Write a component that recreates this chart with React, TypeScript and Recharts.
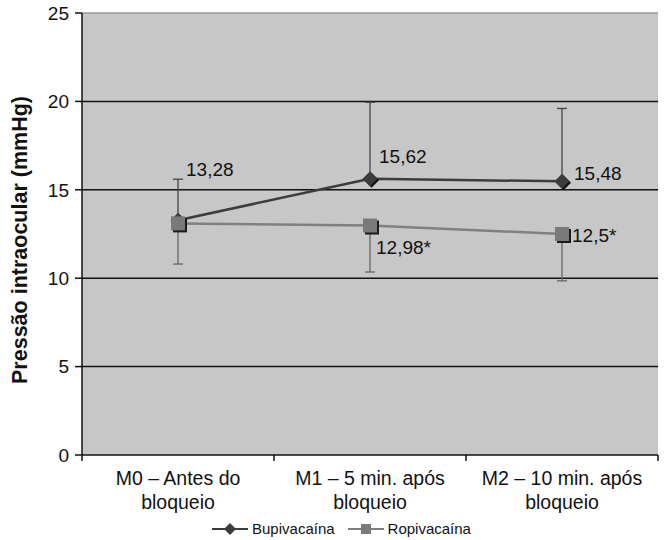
import { LineChart, Line, XAxis, YAxis, ErrorBar, ReferenceLine, CartesianGrid, Legend } from 'recharts';

const categories = [
  ['M0 – Antes do', 'bloqueio'],
  ['M1 – 5 min. após', 'bloqueio'],
  ['M2 – 10 min. após', 'bloqueio'],
];
const bupivacaina = [13.28, 15.62, 15.48];
const bupivacainaUpper = [15.6, 19.95, 19.6];
const ropivacaina = [13.1, 12.98, 12.5];
const ropivacainaLower = [10.8, 10.35, 9.85];
const bupivacainaLabels = ['13,28', '15,62', '15,48'];
const ropivacainaLabels = ['', '12,98*', '12,5*'];
const yTicks = [0, 5, 10, 15, 20, 25];
const gridLines = [5, 10, 15, 20];

const FONT = '"Liberation Sans", Arial, sans-serif';
const BUPI = '#3c3c3c';
const ROPI = '#808080';

const data = categories.map((c, i) => ({
  name: c.join(' '),
  bupi: bupivacaina[i],
  bupiErr: [0, +(bupivacainaUpper[i] - bupivacaina[i]).toFixed(2)],
  ropi: ropivacaina[i],
  ropiErr: [+(ropivacaina[i] - ropivacainaLower[i]).toFixed(2), 0],
}));

const BAND = 192;

function XTick(props: any) {
  const { x, y, index } = props;
  const lines = categories[index] || [];
  return (
    <g>
      <line x1={x - BAND / 2} x2={x - BAND / 2} y1={y} y2={y + 6} stroke="#111" strokeWidth={1.5} />
      {index === categories.length - 1 && (
        <line x1={x + BAND / 2} x2={x + BAND / 2} y1={y} y2={y + 6} stroke="#111" strokeWidth={1.5} />
      )}
      <text x={x} y={y + 30} textAnchor="middle" fontSize={19.5} fill="#111" fontFamily={FONT}>
        {lines[0]}
      </text>
      <text x={x} y={y + 54} textAnchor="middle" fontSize={19.5} fill="#111" fontFamily={FONT}>
        {lines[1]}
      </text>
    </g>
  );
}

function Diamond({ cx, cy }: any) {
  if (cx == null || cy == null) return null;
  const r = 7.5;
  return (
    <g>
      <polygon points={`${cx + 1.5},${cy - r + 1.5} ${cx + r + 1.5},${cy + 1.5} ${cx + 1.5},${cy + r + 1.5} ${cx - r + 1.5},${cy + 1.5}`} fill="#111" />
      <polygon points={`${cx},${cy - r} ${cx + r},${cy} ${cx},${cy + r} ${cx - r},${cy}`} fill={BUPI} />
    </g>
  );
}

function Square({ cx, cy }: any) {
  if (cx == null || cy == null) return null;
  const h = 7;
  return (
    <g>
      <rect x={cx - h + 2} y={cy - h + 2} width={h * 2} height={h * 2} fill="#1a1a1a" />
      <rect x={cx - h} y={cy - h} width={h * 2} height={h * 2} fill="#7a7a7a" />
    </g>
  );
}

const bupiOffsets = [[8, -44], [9, -16], [12, -1]];
const ropiOffsets = [[0, 0], [6, 28], [10, 8]];

const makeLabel = (labels: string[], offsets: number[][]) => (props: any) => {
  const { x, y, index } = props;
  const text = labels[index];
  if (!text) return null;
  return (
    <text key={`lbl-${index}`} x={x + offsets[index][0]} y={y + offsets[index][1]} fontSize={19} fill="#111" fontFamily={FONT}>
      {text}
    </text>
  );
};

function LegendContent() {
  return (
    <div style={{ display: 'flex', justifyContent: 'center', alignItems: 'center', fontFamily: FONT, fontSize: 15, color: '#111', paddingTop: 5, paddingLeft: 24 }}>
      <svg width={38} height={14}>
        <line x1={1} x2={37} y1={7} y2={7} stroke={BUPI} strokeWidth={2} />
        <polygon points="19,1 25,7 19,13 13,7" fill={BUPI} />
      </svg>
      <span style={{ marginLeft: 3, marginRight: 12 }}>Bupivacaína</span>
      <svg width={38} height={14}>
        <line x1={1} x2={37} y1={7} y2={7} stroke={ROPI} strokeWidth={2} />
        <rect x={14} y={2} width={10} height={10} fill="#7a7a7a" />
      </svg>
      <span style={{ marginLeft: 3 }}>Ropivacaína</span>
    </div>
  );
}

function YLabel() {
  return (
    <text
      x={20}
      y={240}
      transform="rotate(-90 20 240)"
      textAnchor="middle"
      dominantBaseline="central"
      fontSize={21.5}
      fontWeight="bold"
      fill="#111"
      fontFamily={FONT}
    >
      Pressão intraocular (mmHg)
    </text>
  );
}

export default function App() {
  return (
    <div style={{ position: 'absolute', left: 0, top: 0, background: '#fff' }}>
      <LineChart width={664} height={540} data={data} margin={{ top: 13, right: 6, bottom: 0, left: 0 }}>
        <CartesianGrid horizontal={false} vertical={false} fill="#c7c7c7" />
        {gridLines.map((v) => (
          <ReferenceLine key={v} y={v} stroke="#111" strokeWidth={1.5} />
        ))}
        <ReferenceLine y={25} stroke="#999" strokeWidth={1.5} />
        <XAxis
          dataKey="name"
          interval={0}
          padding={{ left: BAND / 2, right: BAND / 2 }}
          height={60}
          tickLine={false}
          tickSize={0}
          tickMargin={0}
          axisLine={{ stroke: '#111', strokeWidth: 1.5 }}
          tick={<XTick />}
        />
        <YAxis
          domain={[0, 25]}
          ticks={yTicks}
          width={82}
          tickSize={7}
          tickMargin={6}
          axisLine={{ stroke: '#111', strokeWidth: 1.5 }}
          tickLine={{ stroke: '#111', strokeWidth: 1.5 }}
          tick={{ fontSize: 19, fill: '#111', fontFamily: FONT }}
          label={<YLabel />}
        />
        <YAxis yAxisId="right" orientation="right" domain={[0, 25]} width={0} tick={false} tickLine={false} axisLine={{ stroke: '#999', strokeWidth: 1.5 }} />
        <Legend verticalAlign="bottom" height={25} content={<LegendContent />} />
        <Line
          dataKey="bupi"
          name="Bupivacaína"
          stroke={BUPI}
          strokeWidth={2.5}
          dot={<Diamond />}
          isAnimationActive={false}
          label={makeLabel(bupivacainaLabels, bupiOffsets)}
        >
          <ErrorBar dataKey="bupiErr" direction="y" width={5} stroke="#444" strokeWidth={1.3} />
        </Line>
        <Line
          dataKey="ropi"
          name="Ropivacaína"
          stroke={ROPI}
          strokeWidth={2.5}
          dot={<Square />}
          isAnimationActive={false}
          label={makeLabel(ropivacainaLabels, ropiOffsets)}
        >
          <ErrorBar dataKey="ropiErr" direction="y" width={5} stroke="#666" strokeWidth={1.3} />
        </Line>
      </LineChart>
    </div>
  );
}
